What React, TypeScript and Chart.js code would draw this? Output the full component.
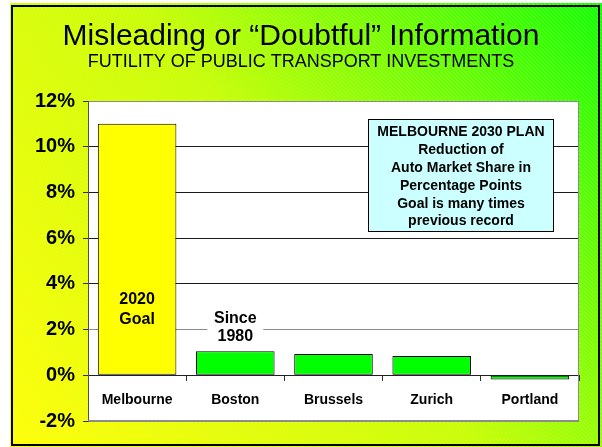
import React, { useEffect, useRef } from 'react';
import { Chart, registerables } from 'chart.js';

Chart.register(...registerables);

const categories = ['Melbourne', 'Boston', 'Brussels', 'Zurich', 'Portland'];
const values = [11, 1.05, 0.93, 0.84, -0.18];
const barColors = ['#ffff00', '#00ff00', '#00ff00', '#00ff00', '#00ff00'];
const yMin = -2;
const yMax = 12;
const yStep = 2;
const titleText = 'Misleading or \u201cDoubtful\u201d Information';
const subtitleText = 'FUTILITY OF PUBLIC TRANSPORT INVESTMENTS';
const goalLines = ['2020', 'Goal'];
const goalValues = [3.3, 2.43];
const sinceLines = ['Since', '1980'];
const sinceValues = [2.48, 1.7];
const boxLines = [
  'MELBOURNE 2030 PLAN',
  'Reduction of',
  'Auto Market Share in',
  'Percentage Points',
  'Goal is many times',
  'previous record',
];
const boxRange = { x0: 2.356, x1: 4.236, yTop: 11.22, yBottom: 6.3 };

const FONT = '"Liberation Sans", Arial, Helvetica, sans-serif';

const backgroundPlugin = {
  id: 'bgFrame',
  beforeDraw(chart: any) {
    const ctx = chart.ctx;
    const W = chart.width;
    const H = chart.height;
    ctx.save();
    ctx.fillStyle = '#ffffff';
    ctx.fillRect(0, 0, W, H);
    const g = ctx.createLinearGradient(10, H, W, 3);
    g.addColorStop(0, '#ffff00');
    g.addColorStop(0.5, '#c8ff00');
    g.addColorStop(0.8, '#60ff00');
    g.addColorStop(1, '#10ff00');
    ctx.fillStyle = g;
    ctx.fillRect(10, 3, W - 10, H - 3);
    // hatching
    ctx.beginPath();
    ctx.rect(10, 3, W - 10, H - 3);
    ctx.clip();
    ctx.strokeStyle = 'rgba(255,255,255,0.22)';
    ctx.lineWidth = 1;
    ctx.beginPath();
    for (let k = -H; k < W + H; k += 4) {
      ctx.moveTo(k, 0);
      ctx.lineTo(k + H, H);
    }
    ctx.stroke();
    ctx.restore();
    // frame
    ctx.save();
    ctx.strokeStyle = '#000000';
    ctx.lineWidth = 2;
    ctx.strokeRect(12, 6, 587, 439);
    ctx.restore();
    // titles
    ctx.save();
    ctx.fillStyle = '#000000';
    ctx.textAlign = 'center';
    ctx.textBaseline = 'middle';
    ctx.font = `30px ${FONT}`;
    ctx.fillText(titleText, W / 2, 37);
    ctx.font = `18px ${FONT}`;
    ctx.fillText(subtitleText, W / 2, 62);
    ctx.restore();
    // plot area
    const a = chart.chartArea;
    ctx.save();
    ctx.fillStyle = '#ffffff';
    ctx.fillRect(a.left, a.top, a.right - a.left, a.bottom - a.top);
    ctx.restore();
  },
  beforeDatasetsDraw(chart: any) {
    const ctx = chart.ctx;
    const a = chart.chartArea;
    ctx.save();
    ctx.strokeStyle = '#8c8c8c';
    ctx.lineWidth = 1;
    ctx.beginPath();
    ctx.moveTo(Math.round(a.right) - 0.5, a.top);
    ctx.lineTo(Math.round(a.right) - 0.5, a.bottom);
    ctx.moveTo(a.left, Math.round(a.bottom) - 0.5);
    ctx.lineTo(a.right, Math.round(a.bottom) - 0.5);
    ctx.stroke();
    ctx.restore();
  },
  afterDatasetsDraw(chart: any) {
    const ctx = chart.ctx;
    const xs = chart.scales.x;
    const ys = chart.scales.y;
    ctx.save();
    ctx.fillStyle = '#000000';
    ctx.textAlign = 'center';
    ctx.textBaseline = 'middle';
    ctx.font = `bold 16px ${FONT}`;
    const gx = xs.getPixelForValue(0);
    goalLines.forEach((t, i) => ctx.fillText(t, gx, ys.getPixelForValue(goalValues[i])));
    // since 1980 with white backing
    const sx = xs.getPixelForValue(1);
    const st = ys.getPixelForValue(sinceValues[0]) - 10;
    const sb = ys.getPixelForValue(sinceValues[1]) + 10;
    ctx.fillStyle = '#ffffff';
    ctx.fillRect(sx - 28, st, 56, sb - st);
    ctx.fillStyle = '#000000';
    sinceLines.forEach((t, i) => ctx.fillText(t, sx, ys.getPixelForValue(sinceValues[i])));
    // info box
    const bx0 = Math.round(xs.getPixelForValue(boxRange.x0)) + 0.5;
    const bx1 = Math.round(xs.getPixelForValue(boxRange.x1)) + 0.5;
    const by0 = Math.round(ys.getPixelForValue(boxRange.yTop)) + 0.5;
    const by1 = Math.round(ys.getPixelForValue(boxRange.yBottom)) + 0.5;
    ctx.fillStyle = '#ccffff';
    ctx.fillRect(bx0, by0, bx1 - bx0, by1 - by0);
    ctx.strokeStyle = '#000000';
    ctx.lineWidth = 1;
    ctx.strokeRect(bx0, by0, bx1 - bx0, by1 - by0);
    ctx.fillStyle = '#000000';
    ctx.font = `bold 14px ${FONT}`;
    const cx = (bx0 + bx1) / 2;
    boxLines.forEach((t, i) => ctx.fillText(t, cx, by0 + 13 + i * 17.8));
    ctx.restore();
  },
};

export default function App() {
  const ref = useRef<HTMLCanvasElement | null>(null);
  useEffect(() => {
    if (!ref.current) return;
    const chart = new Chart(ref.current, {
      type: 'bar',
      data: {
        labels: categories,
        datasets: [
          {
            data: values,
            backgroundColor: barColors,
            borderColor: '#000000',
            borderWidth: 1,
            borderSkipped: false,
            barPercentage: 0.8,
            categoryPercentage: 1,
          },
        ],
      },
      options: {
        responsive: false,
        animation: false,
        devicePixelRatio: 1,
        layout: { padding: { top: 101, right: 23, bottom: 26, left: 0 } },
        plugins: {
          legend: { display: false },
          tooltip: { enabled: false },
          title: { display: false },
        },
        scales: {
          x: {
            type: 'category',
            position: { y: 0 },
            offset: true,
            afterFit: (s: any) => {
              s.height = 0;
            },
            grid: {
              offset: true,
              drawOnChartArea: false,
              drawTicks: true,
              tickLength: 5,
              tickColor: '#303030',
            },
            border: { display: true, color: '#202020', width: 1 },
            ticks: {
              color: '#000000',
              font: { family: FONT, size: 14, weight: 'bold' },
              padding: 11,
              maxRotation: 0,
            },
          },
          y: {
            min: yMin,
            max: yMax,
            afterFit: (s: any) => {
              s.width = 88;
            },
            ticks: {
              stepSize: yStep,
              color: '#000000',
              font: { family: FONT, size: 20, weight: 'bold' },
              padding: 8,
              callback: (v: any) => `${v}%`,
            },
            grid: {
              color: (c: any) => {
                const v = c.tick ? c.tick.value : 0;
                if (v === 12 || v === -2) return '#8c8c8c';
                if (v === 2) return '#8a8a8a';
                return '#1a1a1a';
              },
              lineWidth: 1,
              tickLength: 5,
              tickColor: '#303030',
            },
            border: { display: true, color: '#505050', width: 1 },
          },
        },
      },
      plugins: [backgroundPlugin],
    });
    return () => chart.destroy();
  }, []);
  return (
    <div style={{ position: 'absolute', left: 0, top: 0, width: 602, height: 447 }}>
      <canvas ref={ref} width={602} height={447} style={{ display: 'block' }} />
    </div>
  );
}
